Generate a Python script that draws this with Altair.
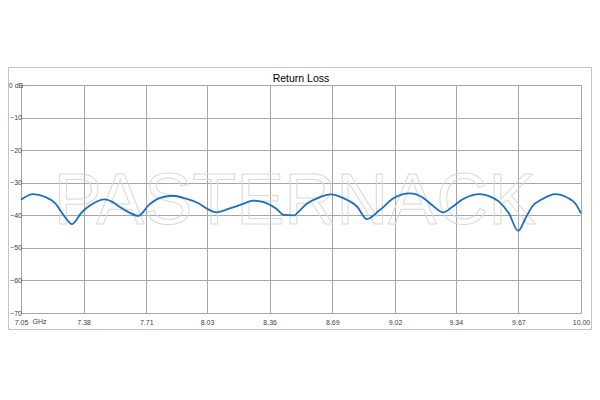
import altair as alt
import pandas as pd

# Frequency (GHz) and return loss (dB)
freq = [7.05, 7.114, 7.175, 7.228, 7.280, 7.318, 7.367, 7.419, 7.489, 7.541,
        7.567, 7.619, 7.668, 7.724, 7.776, 7.845, 7.915, 7.985, 8.037, 8.080,
        8.150, 8.220, 8.272, 8.324, 8.393, 8.437, 8.491, 8.507, 8.559, 8.611,
        8.681, 8.751, 8.820, 8.872, 8.940, 9.012, 9.097, 9.168, 9.220, 9.273,
        9.325, 9.377, 9.429, 9.464, 9.516, 9.568, 9.620, 9.669, 9.708, 9.743,
        9.795, 9.864, 9.934, 9.969, 10.00]
loss = [-35.2, -33.5, -34.3, -36.2, -40.4, -42.7, -39.3, -36.8, -35.1, -36.2,
        -37.3, -39.1, -40.2, -36.8, -34.8, -34.0, -34.8, -36.3, -38.2, -39.1,
        -37.9, -36.5, -35.5, -35.9, -37.9, -39.9, -40.0, -39.2, -36.3, -34.8,
        -33.6, -34.8, -37.3, -41.2, -38.4, -34.8, -33.3, -34.6, -37.1, -39.1,
        -37.3, -35.1, -33.8, -33.5, -34.1, -35.8, -39.4, -44.8, -40.9, -37.3,
        -35.1, -33.5, -34.8, -36.3, -39.4]

x_ticks = [7.05, 7.38, 7.71, 8.03, 8.36, 8.69, 9.02, 9.34, 9.67, 10.00]
y_ticks = [0, -10, -20, -30, -40, -50, -60, -70]

title_text = "Return Loss"
x_unit = "GHz"
watermark = "PASTERNACK"

df = pd.DataFrame({"f": freq, "rl": loss})

W, H = 560, 228
FONT = "Liberation Sans"

x_scale = alt.Scale(domain=[7.05, 10.00], nice=False, zero=False)
y_scale = alt.Scale(domain=[-70, 0], nice=False, zero=False)

line = alt.Chart(df).mark_line(
    color="#1c6ec2", strokeWidth=1.8, interpolate="monotone"
).encode(
    x=alt.X("f:Q", scale=x_scale,
            axis=alt.Axis(values=x_ticks, format=".2f", title=None, grid=True,
                          gridColor="#a6a6a6", gridWidth=1, domain=False,
                          ticks=False, labelFontSize=7, labelColor="#404040",
                          labelFont=FONT, labelPadding=5, labelFlush=False)),
    y=alt.Y("rl:Q", scale=y_scale,
            axis=alt.Axis(values=y_ticks, title=None, grid=True,
                          gridColor="#a6a6a6", gridWidth=1, domain=False,
                          ticks=False, labelFontSize=7, labelColor="#404040",
                          labelFont=FONT, labelAlign="center", labelPadding=5.5,
                          labelFlush=False,
                          labelExpr="datum.value == 0 ? '0 dB' : datum.label")),
)

frame = alt.Chart(pd.DataFrame({"a": [0]})).mark_rect(
    fill="#ffffff", fillOpacity=0, stroke="#c4c4c4", strokeWidth=1
).encode(
    x=alt.value(-12.5), x2=alt.value(570.5), y=alt.value(-17.5), y2=alt.value(244.5)
)

wm = alt.Chart(pd.DataFrame({"t": [watermark]})).mark_text(
    font=FONT, fontSize=72, fill="#ffffff", fillOpacity=0,
    stroke="#d9d9d9", strokeWidth=1, align="center", baseline="alphabetic"
).encode(text="t:N", x=alt.value(274), y=alt.value(139))

title = alt.Chart(pd.DataFrame({"t": [title_text]})).mark_text(
    font=FONT, fontSize=10.5, color="#000000", align="center", baseline="alphabetic"
).encode(text="t:N", x=alt.value(280), y=alt.value(-3))

unit = alt.Chart(pd.DataFrame({"t": [x_unit]})).mark_text(
    font=FONT, fontSize=7, color="#404040", align="center", baseline="top"
).encode(text="t:N", x=alt.value(18.5), y=alt.value(232.5))

chart = alt.layer(frame, wm, line, title, unit).properties(
    width=W, height=H,
    autosize=alt.AutoSizeParams(type="none"),
    padding={"left": 13, "top": 77, "right": 11, "bottom": 25},
).configure_view(stroke=None).configure(background="#ffffff")

chart.save("out.html", embed_options={"renderer": "svg", "actions": False})
